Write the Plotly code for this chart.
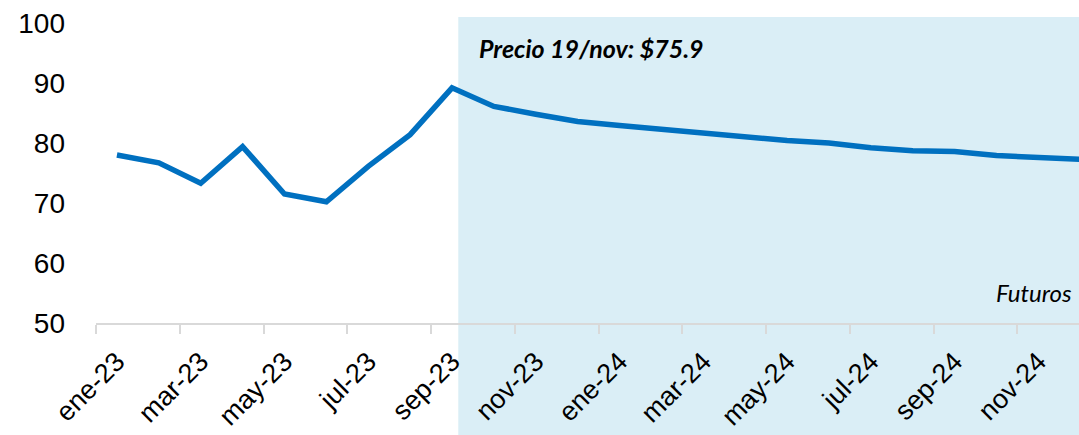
import plotly.graph_objects as go

# --- DATA ---
months = ["ene-23", "feb-23", "mar-23", "abr-23", "may-23", "jun-23",
          "jul-23", "ago-23", "sep-23", "oct-23", "nov-23", "dic-23",
          "ene-24", "feb-24", "mar-24", "abr-24", "may-24", "jun-24",
          "jul-24", "ago-24", "sep-24", "oct-24", "nov-24", "dic-24"]
price = [78.0, 76.7, 73.3, 79.4, 71.5, 70.2, 76.1, 81.4, 89.2,
         86.1, 84.8, 83.6, 82.9, 82.3, 81.7, 80.9, 80.4, 80.0,
         79.2, 78.7, 78.6, 77.9, 77.5, 77.3]
futures_start = 8.15          # category position where the futures band begins
price_note = "Precio 19/nov: $75.9"
futures_note = "Futuros"

BLUE = "#0070C0"
SHADE = "#DAEEF6"
GRID = "#D9D9D9"
FONT = "Liberation Sans, Arial, sans-serif"
NOTE_FONT = "Lato, Calibri, sans-serif"

fig = go.Figure()

fig.add_trace(go.Scatter(
    x=list(range(len(months))), y=price, mode="lines",
    line=dict(color=BLUE, width=5.5), showlegend=False, hoverinfo="skip"
))

# futures band (runs below the axis into the tick-label area)
fig.add_shape(
    type="rect", xref="x", yref="paper",
    x0=futures_start, x1=len(months), y0=-0.4, y1=1.02,
    fillcolor=SHADE, line=dict(width=0), layer="below"
)

fig.add_annotation(
    text=f"<b><i>{price_note}</i></b>", xref="x", yref="y",
    x=futures_start + 0.45, y=95.9, xanchor="left", yanchor="middle",
    showarrow=False, font=dict(family=NOTE_FONT, size=25, color="black")
)
fig.add_annotation(
    text=f"<i>{futures_note}</i>", xref="paper", yref="y",
    x=0.995, y=55.1, xanchor="right", yanchor="middle",
    showarrow=False, font=dict(family=NOTE_FONT, size=24, color="black")
)

fig.update_layout(
    width=1079, height=435,
    margin=dict(l=96, r=0, t=23, b=112),
    paper_bgcolor="white", plot_bgcolor="white",
    showlegend=False,
)

fig.update_xaxes(
    type="linear", range=[-0.5, 22.97],
    tickmode="array",
    tickvals=list(range(0, len(months), 2)),
    ticktext=months[::2],
    tickangle=-45, tickfont=dict(family=FONT, size=27, color="black"),
    showgrid=False, zeroline=False,
    showline=True, linecolor=GRID, linewidth=2,
    ticks="", ticklabelstandoff=10,
    minor=dict(
        tickmode="array",
        tickvals=[v - 0.5 for v in range(0, len(months), 2)],
        ticks="outside", ticklen=9, tickcolor=GRID, tickwidth=2,
        showgrid=False,
    ),
)

fig.update_yaxes(
    range=[50, 100], dtick=10, tick0=50,
    tickfont=dict(family=FONT, size=28, color="black"),
    showgrid=False, zeroline=False,
    showline=False, ticks="", ticklabelstandoff=30,
)

fig.write_html("out.html", config={"displayModeBar": False},
               post_script="document.body.style.margin='0px';")
